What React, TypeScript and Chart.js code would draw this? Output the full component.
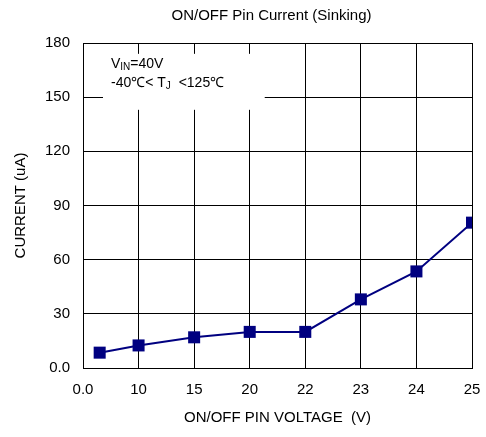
import React, { useEffect, useRef } from "react";
import { Chart, registerables } from "chart.js";

Chart.register(...registerables);

const chartTitle = "ON/OFF Pin Current (Sinking)";
const xAxisTitle = "ON/OFF PIN VOLTAGE  (V)";
const yAxisTitle = "CURRENT (uA)";
const xTickLabels = ["0.0", "10", "15", "20", "22", "23", "24", "25"];
const xPositions = [0.3, 1, 2, 3, 4, 5, 6, 7];
const currentValues = [8.5, 12.5, 17, 20, 20, 38, 53.5, 80.5];
const yMin = 0;
const yMax = 180;
const yStep = 30;

const FONT = "'Liberation Sans', Arial, sans-serif";

const overlayPlugin = {
  id: "overlay",
  beforeDatasetsDraw(chart: any) {
    const { ctx, scales } = chart;
    const xs = scales.x;
    const ys = scales.y;
    const left = xs.getPixelForValue(0.36);
    const right = xs.getPixelForValue(3.27);
    const top = ys.getPixelForValue(174);
    const bottom = ys.getPixelForValue(143);
    ctx.save();
    ctx.fillStyle = "#ffffff";
    ctx.fillRect(left, top, right - left, bottom - top);
    ctx.fillStyle = "#000000";
    ctx.textBaseline = "alphabetic";
    ctx.textAlign = "left";
    let x = left + 8;
    let y = top + 14;
    ctx.font = `14px ${FONT}`;
    ctx.fillText("V", x, y);
    x += ctx.measureText("V").width;
    ctx.font = `10px ${FONT}`;
    ctx.fillText("IN", x, y + 2);
    x += ctx.measureText("IN").width;
    ctx.font = `14px ${FONT}`;
    ctx.fillText("=40V", x, y);
    x = left + 8;
    y = top + 33;
    const p1 = "-40\u2103< T";
    ctx.fillText(p1, x, y);
    x += ctx.measureText(p1).width;
    ctx.font = `10px ${FONT}`;
    ctx.fillText("J", x, y + 2);
    x += ctx.measureText("J").width;
    ctx.font = `14px ${FONT}`;
    ctx.fillText("  <125\u2103", x, y);
    ctx.restore();
  },
  afterDraw(chart: any) {
    const { ctx, chartArea } = chart;
    ctx.save();
    ctx.font = `15px ${FONT}`;
    ctx.fillStyle = "#000000";
    ctx.textAlign = "center";
    ctx.textBaseline = "middle";
    ctx.fillText(chartTitle, (chartArea.left + chartArea.right) / 2 - 6, 16);
    ctx.restore();
  },
};

export default function App() {
  const canvasRef = useRef<HTMLCanvasElement | null>(null);

  useEffect(() => {
    document.body.style.margin = "0";
    const canvas = canvasRef.current;
    if (!canvas) return;
    const chart = new Chart(canvas, {
      type: "line",
      data: {
        datasets: [
          {
            data: xPositions.map((x, i) => ({ x, y: currentValues[i] })),
            borderColor: "#000080",
            backgroundColor: "#000080",
            borderWidth: 2,
            pointStyle: "rect",
            pointRadius: 8.5,
            pointBorderWidth: 0,
            pointBackgroundColor: "#000080",
            tension: 0,
          },
        ],
      },
      options: {
        responsive: false,
        animation: false,
        events: [],
        layout: { padding: { top: 43, right: 14, left: 0, bottom: 0 } },
        plugins: {
          legend: { display: false },
          title: { display: false },
          tooltip: { enabled: false },
        },
        scales: {
          x: {
            type: "linear",
            min: 0,
            max: xTickLabels.length - 1,
            afterFit(scale: any) {
              scale.height = 69;
              scale.paddingRight = 0;
              scale.paddingLeft = 0;
            },
            grid: {
              color: "#000000",
              lineWidth: 1,
              drawTicks: false,
            },
            border: { color: "#000000", width: 1 },
            ticks: {
              stepSize: 1,
              padding: 13,
              color: "#000000",
              font: { family: FONT, size: 15 },
              maxRotation: 0,
              autoSkip: false,
              callback: (v: any) => xTickLabels[Math.round(Number(v))] ?? "",
            },
            title: {
              display: true,
              text: xAxisTitle,
              color: "#000000",
              font: { family: FONT, size: 15 },
              padding: { top: 0, bottom: 10 },
            },
          },
          y: {
            min: yMin,
            max: yMax,
            afterFit(scale: any) {
              scale.width = 83;
              scale.paddingTop = 0;
              scale.paddingBottom = 0;
            },
            grid: {
              color: "#000000",
              lineWidth: 1,
              drawTicks: false,
            },
            border: { color: "#000000", width: 1 },
            ticks: {
              stepSize: yStep,
              padding: 13,
              color: "#000000",
              font: { family: FONT, size: 15 },
              callback: (v: any) => (Number(v) === 0 ? "0.0" : String(v)),
            },
            title: {
              display: true,
              text: yAxisTitle,
              color: "#000000",
              font: { family: FONT, size: 15 },
              padding: { top: 12, bottom: 0 },
            },
          },
        },
      },
      plugins: [overlayPlugin],
    });
    return () => chart.destroy();
  }, []);

  return (
    <div style={{ position: "fixed", left: 0, top: 0, width: 486, height: 437 }}>
      <canvas ref={canvasRef} width={486} height={437} />
    </div>
  );
}
